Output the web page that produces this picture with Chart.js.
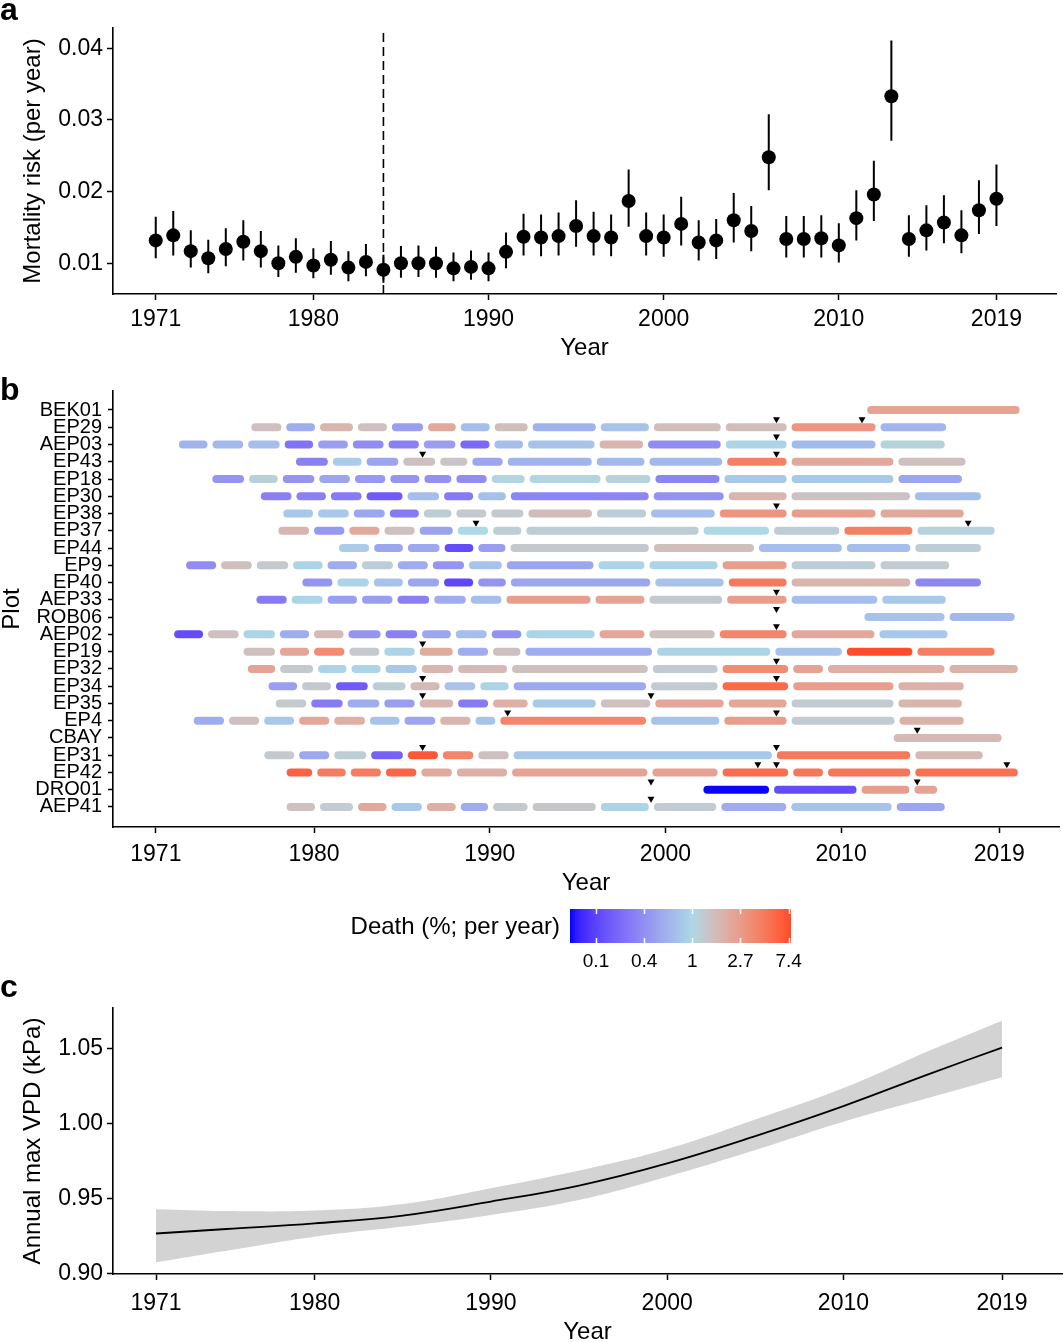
<!DOCTYPE html>
<html>
<head>
<meta charset="utf-8">
<script src="https://cdn.jsdelivr.net/npm/chart.js@4.4.1/dist/chart.umd.min.js"></script>
<style>
  html, body { margin: 0; padding: 0; background: #fff; overflow: hidden; }
  body { width: 1063px; height: 1342px; position: relative; font-family: "Liberation Sans", Arial, Helvetica, sans-serif; color: #000; }
  canvas { position: absolute; left: 0; }
  .tag { position: absolute; left: 0; font-weight: bold; font-size: 32px; line-height: 32px; }
  .legend-title { position: absolute; right: 503px; top: 912px; font-size: 24px; line-height: 28px; white-space: nowrap; }
</style>
</head>
<body>
<canvas id="chart-a" width="1063" height="370" style="top:0"></canvas>
<canvas id="chart-b" width="1063" height="545" style="top:355px"></canvas>
<canvas id="chart-legend" width="1063" height="80" style="top:900px"></canvas>
<canvas id="chart-c" width="1063" height="365" style="top:985px"></canvas>

<div class="tag" style="top:-7px">a</div>
<div class="tag" style="top:373px">b</div>
<div class="tag" style="top:970px">c</div>
<div class="legend-title">Death (%; per year)</div>

<script>
// ============================================================
// DATA
// ============================================================
const YEAR_TICKS = [1971, 1980, 1990, 2000, 2010, 2019];

// panel a: yearly mortality risk with intervals
const RISK_YEARS = [1971, 1972, 1973, 1974, 1975, 1976, 1977, 1978, 1979, 1980,
  1981, 1982, 1983, 1984, 1985, 1986, 1987, 1988, 1989, 1990,
  1991, 1992, 1993, 1994, 1995, 1996, 1997, 1998, 1999, 2000,
  2001, 2002, 2003, 2004, 2005, 2006, 2007, 2008, 2009, 2010,
  2011, 2012, 2013, 2014, 2015, 2016, 2017, 2018, 2019];
const RISK = [0.0132, 0.0139, 0.0117, 0.0107, 0.0120, 0.0130, 0.0117, 0.0100, 0.0109, 0.0097,
  0.0105, 0.0094, 0.0102, 0.0091, 0.0100, 0.0100, 0.0100, 0.0093, 0.0095, 0.0093,
  0.0116, 0.0137, 0.0136, 0.0138, 0.0152, 0.0138, 0.0136, 0.0187, 0.0138, 0.0136,
  0.0155, 0.0129, 0.0132, 0.0160, 0.0145, 0.0248, 0.0134, 0.0134, 0.0135, 0.0125,
  0.0163, 0.0196, 0.0333, 0.0134, 0.0146, 0.0157, 0.0139, 0.0174, 0.0190];
const RISK_LOW = [0.0107, 0.0111, 0.0094, 0.0086, 0.0096, 0.0104, 0.0094, 0.0081, 0.0087, 0.0079,
  0.0084, 0.0075, 0.0082, 0.0073, 0.0080, 0.0081, 0.0080, 0.0075, 0.0077, 0.0075,
  0.0093, 0.0111, 0.0110, 0.0111, 0.0123, 0.0111, 0.0110, 0.0151, 0.0111, 0.0109,
  0.0125, 0.0104, 0.0106, 0.0129, 0.0117, 0.0202, 0.0108, 0.0108, 0.0108, 0.0101,
  0.0132, 0.0159, 0.0271, 0.0109, 0.0118, 0.0128, 0.0114, 0.0141, 0.0152];
const RISK_HIGH = [0.0165, 0.0173, 0.0146, 0.0133, 0.0149, 0.0160, 0.0145, 0.0125, 0.0135, 0.0121,
  0.0131, 0.0117, 0.0127, 0.0112, 0.0124, 0.0125, 0.0123, 0.0115, 0.0118, 0.0115,
  0.0143, 0.0169, 0.0168, 0.0171, 0.0188, 0.0172, 0.0168, 0.0231, 0.0171, 0.0168,
  0.0193, 0.0160, 0.0162, 0.0198, 0.0180, 0.0308, 0.0166, 0.0166, 0.0167, 0.0156,
  0.0202, 0.0243, 0.0411, 0.0167, 0.0181, 0.0195, 0.0174, 0.0216, 0.0238];
const RISK_TICKS = [0.01, 0.02, 0.03, 0.04];
const BREAK_YEAR = 1984;

// panel b: census intervals per plot, death rate (% per year) per interval
const PLOT_NAMES = ['BEK01', 'EP29', 'AEP03', 'EP43', 'EP18', 'EP30', 'EP38', 'EP37', 'EP44', 'EP9',
  'EP40', 'AEP33', 'ROB06', 'AEP02', 'EP19', 'EP32', 'EP34', 'EP35', 'EP4', 'CBAY',
  'EP31', 'EP42', 'DRO01', 'AEP41'];
const CENSUS_YEARS = [
  [2011.34, 2020.30],
  [1976.29, 1978.28, 1980.20, 1982.36, 1984.29, 1986.35, 1988.21, 1990.14, 1992.30, 1996.18, 1999.20, 2003.29, 2007.04, 2012.10, 2016.12],
  [1972.17, 1974.08, 1976.11, 1978.19, 1980.09, 1982.07, 1984.10, 1986.11, 1988.19, 1990.13, 1992.04, 1996.11, 1998.87, 2003.29, 2007.04, 2012.10, 2016.04],
  [1978.83, 1980.93, 1982.85, 1984.94, 1987.04, 1988.87, 1990.88, 1995.95, 1998.95, 2003.37, 2007.04, 2013.12, 2017.22],
  [1974.07, 1976.16, 1978.08, 1980.16, 1982.19, 1984.20, 1986.14, 1987.96, 1989.97, 1992.13, 1996.45, 1999.29, 2003.22, 2007.04, 2013.12, 2017.02],
  [1976.83, 1978.86, 1980.82, 1982.85, 1985.18, 1987.26, 1989.20, 1991.06, 1999.19, 2003.46, 2007.04, 2014.06, 2018.10],
  [1978.11, 1980.09, 1982.12, 1984.17, 1986.11, 1987.96, 1989.95, 1992.06, 1995.96, 1999.04, 2002.95, 2007.04, 2012.10, 2017.12],
  [1977.83, 1979.86, 1981.87, 1983.87, 1985.87, 1988.04, 1990.05, 1991.94, 2002.03, 2006.04, 2010.04, 2014.20, 2018.88],
  [1981.28, 1983.28, 1985.20, 1987.29, 1989.21, 1991.04, 1999.20, 2005.18, 2010.18, 2014.08, 2018.10],
  [1972.58, 1974.57, 1976.60, 1978.67, 1980.63, 1982.59, 1984.63, 1986.62, 1988.68, 1990.83, 1996.05, 1998.95, 2003.11, 2007.04, 2012.10, 2016.29],
  [1979.19, 1981.19, 1983.26, 1985.20, 1987.26, 1989.20, 1991.06, 1999.28, 2003.46, 2007.04, 2014.08, 2018.10],
  [1976.58, 1978.59, 1980.63, 1982.59, 1984.61, 1986.70, 1988.78, 1990.81, 1995.88, 1998.95, 2003.37, 2007.04, 2012.20, 2016.10],
  [2011.18, 2016.03, 2020.02],
  [1971.90, 1973.83, 1975.85, 1977.92, 1979.86, 1981.82, 1983.93, 1986.01, 1987.93, 1989.97, 1991.94, 1996.11, 1998.95, 2002.95, 2007.04, 2012.04, 2016.20],
  [1975.85, 1977.92, 1979.86, 1981.87, 1983.86, 1985.87, 1988.04, 1990.05, 1991.89, 1999.38, 2006.11, 2010.18, 2014.20, 2018.88],
  [1976.09, 1977.93, 1980.09, 1981.99, 1983.93, 1985.99, 1988.06, 1991.13, 1999.14, 2003.11, 2007.13, 2009.11, 2016.03, 2020.20],
  [1977.27, 1979.18, 1981.11, 1983.20, 1985.35, 1987.29, 1989.32, 1991.22, 1999.04, 2003.11, 2007.13, 2013.12, 2017.12],
  [1977.68, 1979.70, 1981.77, 1983.86, 1985.87, 1988.06, 1990.05, 1992.30, 1996.18, 1999.28, 2003.46, 2007.04, 2013.12, 2017.02],
  [1973.01, 1975.02, 1977.02, 1979.01, 1981.01, 1983.04, 1985.01, 1987.04, 1989.05, 1990.46, 1999.04, 2003.21, 2007.04, 2013.18, 2017.12],
  [2012.85, 2019.28],
  [1977.03, 1979.01, 1981.01, 1983.11, 1985.20, 1987.19, 1989.21, 1991.22, 2006.20, 2014.08, 2018.20],
  [1978.30, 1980.04, 1981.95, 1983.95, 1985.97, 1987.99, 1991.13, 1999.12, 2003.11, 2007.13, 2009.11, 2014.08, 2020.20],
  [2002.02, 2006.04, 2011.02, 2014.03, 2015.61],
  [1978.30, 1980.20, 1982.36, 1984.27, 1986.28, 1988.21, 1990.05, 1992.30, 1996.18, 1999.20, 2003.04, 2007.02, 2013.02, 2016.04]
];
const DEATH_RATES = [
  [2.4],
  [1.5, 0.55, 1.8, 1.5, 0.45, 2.2, 0.7, 1.55, 0.6, 0.75, 1.55, 1.55, 3.0, 0.62],
  [0.6, 0.65, 0.7, 0.25, 0.45, 0.35, 0.3, 0.45, 0.22, 0.7, 0.75, 1.8, 0.35, 0.95, 0.65, 1.1],
  [0.3, 0.85, 0.5, 1.5, 1.4, 0.5, 0.6, 0.65, 0.65, 4.0, 2.2, 1.5],
  [0.4, 1.15, 0.4, 0.5, 0.42, 0.4, 0.38, 0.36, 1.05, 1.05, 1.1, 0.32, 0.8, 0.8, 0.5],
  [0.3, 0.3, 0.28, 0.18, 0.7, 0.28, 0.72, 0.32, 0.38, 1.8, 1.45, 0.7],
  [0.8, 0.8, 0.5, 0.28, 1.2, 1.3, 1.3, 1.6, 1.2, 0.7, 3.0, 2.6, 2.2],
  [1.8, 0.42, 2.2, 1.5, 0.48, 1.0, 1.2, 1.2, 1.0, 1.2, 4.0, 1.1],
  [0.85, 0.5, 0.52, 0.15, 0.45, 1.3, 1.55, 0.7, 0.7, 1.2],
  [0.35, 1.5, 1.3, 0.95, 0.55, 1.2, 0.55, 0.4, 0.75, 0.5, 0.95, 0.95, 2.6, 1.2, 1.25],
  [0.4, 0.95, 0.75, 0.5, 0.14, 0.4, 0.5, 0.75, 4.5, 1.8, 0.33],
  [0.28, 0.95, 0.45, 0.45, 0.3, 0.55, 0.7, 2.6, 2.4, 1.3, 2.6, 0.7, 0.8],
  [0.75, 0.65],
  [0.15, 1.5, 0.95, 0.55, 1.65, 0.4, 0.3, 0.5, 0.7, 0.38, 0.95, 2.3, 1.5, 3.8, 2.2, 0.8],
  [1.5, 2.3, 3.5, 1.3, 0.95, 2.1, 0.55, 1.5, 0.55, 0.95, 0.75, 7.6, 4.2],
  [2.4, 1.3, 0.95, 0.95, 0.8, 1.8, 1.7, 1.5, 1.25, 3.5, 2.4, 2.0, 1.9],
  [0.45, 1.3, 0.18, 1.2, 1.65, 0.75, 0.95, 0.52, 1.25, 5.5, 2.6, 1.9],
  [1.3, 0.28, 0.55, 0.45, 1.8, 0.28, 2.0, 0.8, 1.5, 2.3, 2.3, 1.25, 1.8],
  [0.55, 1.5, 0.8, 2.3, 2.0, 0.75, 0.5, 1.8, 0.75, 3.8, 0.75, 2.6, 1.25, 1.9],
  [1.7],
  [1.3, 0.52, 1.2, 0.2, 6.8, 3.8, 1.5, 0.8, 4.5, 1.7],
  [6.0, 4.3, 4.3, 5.8, 2.2, 2.0, 2.4, 2.5, 5.3, 4.7, 4.7, 5.0],
  [0.08, 0.15, 2.6, 2.4],
  [1.5, 1.25, 2.2, 0.8, 2.0, 0.55, 1.3, 1.35, 0.95, 1.25, 0.55, 0.75, 0.5]
];
// census markers (triangles)
const MARK_PLOTS = ['EP29', 'EP29', 'AEP03', 'EP43', 'EP43', 'EP38', 'EP37', 'EP37', 'AEP33', 'ROB06',
  'AEP02', 'EP19', 'EP32', 'EP34', 'EP34', 'EP35', 'EP35', 'EP4', 'EP4', 'CBAY',
  'EP31', 'EP31', 'EP42', 'EP42', 'EP42', 'DRO01', 'DRO01', 'AEP41'];
const MARK_YEARS = [2006.32, 2011.19, 2006.32, 1986.18, 2006.32, 2006.32, 1989.22, 2017.23, 2006.32, 2006.32,
  2006.32, 1986.18, 2006.32, 1986.18, 2006.32, 1986.18, 1999.18, 1991.02, 2006.32, 2014.33,
  1986.18, 2006.32, 2005.26, 2006.32, 2019.43, 1999.18, 2014.33, 1999.18];

// colour legend
const LEGEND_TICKS = [-2, -1, 0, 1, 2];          // natural log of death %
const LN_MIN = -2.54, LN_MAX = 2.05;
const COLOUR_LOW = '#0000ff', COLOUR_MID = '#add8e6', COLOUR_HIGH = '#ff4a2a';

// panel c: annual max VPD fit with band
const VPD_YEARS = [1971, 1975, 1980, 1985, 1990, 1995, 2000, 2005, 2010, 2015, 2019];
const VPD_FIT  = [0.9265, 0.9295, 0.9333, 0.9385, 0.9478, 0.9585, 0.9733, 0.9915, 1.0115, 1.0335, 1.0505];
const VPD_HIGH = [0.9427, 0.9415, 0.9418, 0.9462, 0.9567, 0.9685, 0.9829, 1.0025, 1.0235, 1.0490, 1.0684];
const VPD_LOW  = [0.9073, 0.9150, 0.9244, 0.9311, 0.9389, 0.9489, 0.9644, 0.9822, 1.0011, 1.0175, 1.0307];
const VPD_TICKS = [0.90, 0.95, 1.00, 1.05];

// ============================================================
// SHARED STYLE
// ============================================================
const FONT = '"Liberation Sans", Arial, Helvetica, sans-serif';
const X_MIN = 1968.56, X_MAX = 2022.4;
const AXIS_LEFT = 113;

Chart.defaults.font.family = FONT;
Chart.defaults.color = '#000';
Chart.defaults.animation = false;
Chart.defaults.plugins.legend.display = false;
Chart.defaults.plugins.tooltip.enabled = false;
Chart.defaults.events = [];

const axisGrid = { drawOnChartArea: false, drawTicks: true, tickLength: 6, tickColor: '#000', tickWidth: 1.5 };
const axisBorder = { display: true, color: '#000', width: 1.6 };

function yearAxis(height, tickPad, titlePad) {
  return {
    type: 'linear', min: X_MIN, max: X_MAX,
    afterBuildTicks: s => { s.ticks = YEAR_TICKS.map(v => ({ value: v })); },
    afterFit: s => { s.height = height; },
    ticks: { color: '#000', font: { size: 23 }, padding: tickPad, maxRotation: 0, autoSkip: false, callback: v => String(v) },
    grid: axisGrid,
    border: axisBorder,
    title: { display: true, text: 'Year', color: '#000', font: { size: 24, lineHeight: 1 }, padding: { top: 0, bottom: titlePad } }
  };
}

function valueAxis(min, max, ticks, digits, title) {
  return {
    type: 'linear', min, max,
    afterBuildTicks: s => { s.ticks = ticks.map(v => ({ value: v })); },
    afterFit: s => { s.width = AXIS_LEFT; },
    ticks: { color: '#000', font: { size: 23 }, padding: 4, autoSkip: false, callback: v => v.toFixed(digits) },
    grid: axisGrid,
    border: axisBorder,
    title: { display: true, text: title, color: '#000', font: { size: 24, lineHeight: 1 }, padding: { top: 21, bottom: 0 } }
  };
}

// ------------------------------------------------------------
// colour scale: blue -> lightblue -> red, interpolated in Lab on log(death)
// ------------------------------------------------------------
function toLin(c) { c /= 255; return c <= 0.04045 ? c / 12.92 : Math.pow((c + 0.055) / 1.055, 2.4); }
function fromLin(c) {
  const v = c <= 0.0031308 ? 12.92 * c : 1.055 * Math.pow(c, 1 / 2.4) - 0.055;
  return Math.round(Math.min(1, Math.max(0, v)) * 255);
}
function hexToLab(hex) {
  const n = parseInt(hex.slice(1), 16);
  const r = toLin(n >> 16), g = toLin((n >> 8) & 255), b = toLin(n & 255);
  const X = (0.4124 * r + 0.3576 * g + 0.1805 * b) / 0.95047;
  const Y = 0.2126 * r + 0.7152 * g + 0.0722 * b;
  const Z = (0.0193 * r + 0.1192 * g + 0.9505 * b) / 1.08883;
  const f = t => t > 0.008856 ? Math.cbrt(t) : 7.787 * t + 16 / 116;
  const fx = f(X), fy = f(Y), fz = f(Z);
  return [116 * fy - 16, 500 * (fx - fy), 200 * (fy - fz)];
}
function labToCss([L, a, b]) {
  const fy = (L + 16) / 116, fx = fy + a / 500, fz = fy - b / 200;
  const inv = t => (t * t * t > 0.008856 ? t * t * t : (t - 16 / 116) / 7.787);
  const X = inv(fx) * 0.95047, Y = inv(fy), Z = inv(fz) * 1.08883;
  const r = 3.2406 * X - 1.5372 * Y - 0.4986 * Z;
  const g = -0.9689 * X + 1.8758 * Y + 0.0415 * Z;
  const bl = 0.0557 * X - 0.2040 * Y + 1.0570 * Z;
  return `rgb(${fromLin(r)},${fromLin(g)},${fromLin(bl)})`;
}
const LAB_LOW = hexToLab(COLOUR_LOW), LAB_MID = hexToLab(COLOUR_MID), LAB_HIGH = hexToLab(COLOUR_HIGH);
function mix(p, q, t) { return p.map((v, i) => v + (q[i] - v) * t); }
function lnColour(l) {
  l = Math.min(LN_MAX, Math.max(LN_MIN, l));
  return l < 0 ? labToCss(mix(LAB_LOW, LAB_MID, (l - LN_MIN) / -LN_MIN))
               : labToCss(mix(LAB_MID, LAB_HIGH, l / LN_MAX));
}
function deathColour(v) { return lnColour(Math.log(v)); }

// ============================================================
// PANEL A
// ============================================================
const RISK_MIN = 0.00572, RISK_MAX = 0.04283;
// each interval becomes its own piece of one line, split by a null point
const errorBarPoints = RISK_YEARS.flatMap((x, i) => [
  { x, y: RISK_LOW[i] }, { x, y: RISK_HIGH[i] }, { x, y: null }
]);

new Chart(document.getElementById('chart-a'), {
  type: 'scatter',
  data: {
    datasets: [
      {
        type: 'scatter',
        data: RISK_YEARS.map((x, i) => ({ x, y: RISK[i] })),
        pointRadius: 7, backgroundColor: '#000', borderWidth: 0
      },
      {
        type: 'line',
        data: errorBarPoints,
        borderColor: '#000', borderWidth: 2, pointRadius: 0, spanGaps: false
      },
      {
        type: 'line',
        data: [{ x: BREAK_YEAR, y: RISK_MIN }, { x: BREAK_YEAR, y: RISK_MAX }],
        borderColor: '#000', borderWidth: 1.6, borderDash: [9, 5], pointRadius: 0
      }
    ]
  },
  options: {
    responsive: false, devicePixelRatio: 1,
    layout: { padding: { top: 28, right: 1, left: 0, bottom: 0 } },
    scales: {
      x: yearAxis(76, 6, 10),
      y: valueAxis(RISK_MIN, RISK_MAX, RISK_TICKS, 2, 'Mortality risk (per year)')
    }
  }
});

// ============================================================
// PANEL B
// ============================================================
const SHRINK = 0.37;        // half gap + round cap, in years
const MARK_LIFT = 0.47;     // triangle sits just above its row
const segmentSets = [];
CENSUS_YEARS.forEach((years, row) => {
  DEATH_RATES[row].forEach((rate, k) => {
    segmentSets.push({
      type: 'line',
      data: [{ x: years[k] + SHRINK, y: row }, { x: years[k + 1] - SHRINK, y: row }],
      borderColor: deathColour(rate), borderWidth: 8, borderCapStyle: 'round',
      pointRadius: 0
    });
  });
});

new Chart(document.getElementById('chart-b'), {
  type: 'scatter',
  data: {
    datasets: [
      {
        type: 'scatter',
        data: MARK_PLOTS.map((p, i) => ({ x: MARK_YEARS[i], y: PLOT_NAMES.indexOf(p) - MARK_LIFT })),
        pointStyle: 'triangle', rotation: 180, pointRadius: 4, backgroundColor: '#000', borderWidth: 0
      },
      ...segmentSets
    ]
  },
  options: {
    responsive: false, devicePixelRatio: 1,
    layout: { padding: { top: 36, right: 1, left: 0, bottom: 0 } },
    scales: {
      x: yearAxis(73, 8, 5),
      y: {
        type: 'linear', reverse: true, min: -1.1, max: 24.16,
        afterBuildTicks: s => { s.ticks = PLOT_NAMES.map((_, i) => ({ value: i })); },
        afterFit: s => { s.width = AXIS_LEFT; },
        ticks: { color: '#000', font: { size: 20 }, padding: 6, autoSkip: false, callback: v => PLOT_NAMES[v] },
        grid: { ...axisGrid, tickLength: 5 },
        border: axisBorder,
        title: { display: true, text: 'Plot', color: '#000', font: { size: 24, lineHeight: 1 }, padding: { top: 0, bottom: 0 } }
      }
    }
  }
});

// colour legend
const legendTicks = {
  id: 'legendTicks',
  afterDatasetsDraw(chart) {
    const { ctx, chartArea: { top, bottom } } = chart;
    const xs = chart.scales.x;
    ctx.save();
    ctx.strokeStyle = '#fff';
    ctx.lineWidth = 1.5;
    LEGEND_TICKS.forEach(v => {
      const px = Math.round(xs.getPixelForValue(v)) + 0.5;
      ctx.beginPath();
      ctx.moveTo(px, top); ctx.lineTo(px, top + 5);
      ctx.moveTo(px, bottom - 5); ctx.lineTo(px, bottom);
      ctx.stroke();
    });
    ctx.restore();
  }
};

new Chart(document.getElementById('chart-legend'), {
  type: 'scatter',
  data: {
    datasets: [{
      type: 'line',
      data: [{ x: LN_MIN, y: 1 }, { x: LN_MAX, y: 1 }],
      borderWidth: 0, pointRadius: 0, fill: 'start',
      backgroundColor: (context) => {
        const { chart } = context;
        const area = chart.chartArea;
        if (!area) return '#ccc';
        const g = chart.ctx.createLinearGradient(area.left, 0, area.right, 0);
        const n = 40;
        for (let i = 0; i <= n; i++) g.addColorStop(i / n, lnColour(LN_MIN + (LN_MAX - LN_MIN) * i / n));
        return g;
      }
    }]
  },
  options: {
    responsive: false, devicePixelRatio: 1,
    layout: { padding: { top: 9, left: 570, right: 272, bottom: 0 } },
    scales: {
      x: {
        type: 'linear', min: LN_MIN, max: LN_MAX,
        afterBuildTicks: s => { s.ticks = LEGEND_TICKS.map(v => ({ value: v })); },
        afterFit: s => { s.height = 37; },
        ticks: { color: '#000', font: { size: 19 }, padding: 7, autoSkip: false, maxRotation: 0,
                 callback: v => String(Number(Math.exp(v).toFixed(1))) },
        grid: { display: false, drawTicks: false },
        border: { display: false }
      },
      y: { type: 'linear', min: 0, max: 1, display: false }
    }
  },
  plugins: [legendTicks]
});

// ============================================================
// PANEL C
// ============================================================
const VPD_MIN = 0.8995, VPD_MAX = 1.0769;
const bandStyle = { borderWidth: 0, pointRadius: 0, tension: 0.4 };
new Chart(document.getElementById('chart-c'), {
  type: 'scatter',
  data: {
    datasets: [
      {
        type: 'line',
        data: VPD_YEARS.map((x, i) => ({ x, y: VPD_FIT[i] })),
        borderColor: '#000', borderWidth: 1.8, pointRadius: 0, tension: 0.4
      },
      {
        type: 'line', ...bandStyle,
        data: VPD_YEARS.map((x, i) => ({ x, y: VPD_HIGH[i] })),
        backgroundColor: '#d3d3d3', fill: '+1'
      },
      {
        type: 'line', ...bandStyle,
        data: VPD_YEARS.map((x, i) => ({ x, y: VPD_LOW[i] })),
        fill: false
      }
    ]
  },
  options: {
    responsive: false, devicePixelRatio: 1,
    layout: { padding: { top: 23, right: 1, left: 0, bottom: 0 } },
    scales: {
      x: yearAxis(76, 10, 6),
      y: valueAxis(VPD_MIN, VPD_MAX, VPD_TICKS, 2, 'Annual max VPD (kPa)')
    }
  }
});
</script>
</body>
</html>
